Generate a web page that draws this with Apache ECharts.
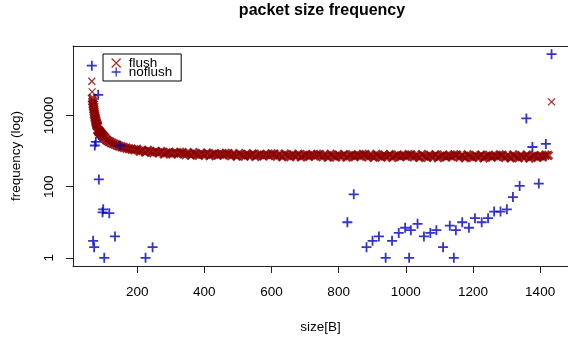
<!DOCTYPE html>
<html><head><meta charset="utf-8">
<script src="https://cdn.jsdelivr.net/npm/echarts@6/dist/echarts.min.js"></script>
<style>html,body{margin:0;padding:0;background:#fff}#c{width:568px;height:339px}</style>
</head><body><div id="c"></div>
<script>
const xTicks = [200, 400, 600, 800, 1000, 1200, 1400];
const yTicks = [1, 100, 10000];

const flushSize = [65,66,67,68,69,70,71,72,73,74,75,76,77,78,79,80,81,82,83,84,85,86,87,88,89,90,92,94,96,98,100,103,107,111,116,121,127,133,140,146,153,160,168,176,184,192,
200,208,216,224,232,240,248,256,264,272,280,288,296,304,312,320,328,336,344,352,360,368,376,384,392,400,408,416,424,432,440,448,456,464,472,480,488,496,504,512,520,528,536,544,552,560,568,576,584,592,600,608,616,624,632,640,648,656,664,672,680,688,696,704,712,720,728,736,744,752,760,768,776,784,792,800,808,816,824,832,840,848,856,864,872,880,888,896,904,912,920,928,936,944,952,960,968,976,984,992,1000,1008,1016,1024,1032,1040,1048,1056,1064,1072,1080,1088,1096,1104,1112,1120,1128,1136,1144,1152,1160,1168,1176,1184,1192,1200,1208,1216,1224,1232,1240,1248,1256,1264,1272,1280,1288,1296,1304,1312,1320,1328,1336,1344,1352,1360,1368,1376,1384,1392,1400,1408,1416,1424,1434];
const flushFreq = [91000,46000,30000,24500,20500,17500,14800,12700,11000,9800,8700,7800,7000,6400,5900,5500,5200,4900,3900,3800,3700,3600,3520,3440,3370,3300,3120,2920,2780,2650,2540,2390,2120,1990,1860,1750,1640,1550,1460,1390,1320,1260,1205,1160,1120,1085,
1115,990,1036,934,1054,957,892,972,895,973,827,895,927,833,888,842,919,901,793,854,766,900,816,762,852,786,873,736,810,848,760,821,779,860,845,740,804,718,854,772,720,812,748,836,701,776,816,728,790,749,831,817,713,778,692,829,748,697,790,726,815,680,756,796,710,772,732,814,801,697,762,677,815,734,683,777,713,803,668,744,785,699,761,722,804,791,687,753,668,806,725,675,768,704,794,659,736,776,690,752,713,795,782,678,744,659,797,716,666,759,696,785,651,727,768,681,744,704,787,773,670,735,651,788,708,657,751,687,777,642,719,759,673,735,696,778,765,661,727,642,780,699,649,742,679,768,634,710,751,665,727,688,770,757,24100];

const noflushSize = [65,84,77,74,148,86,99,97,117,69,72,134,102,225,246,826,845,883,901,920,940,959,979,998,1015,1035,1010,1054,1073,1091,1111,1131,1149,1143,1168,1188,1206,1226,1245,1263,1282,1301,1319,1339,1396,1434,1359,1377,1417];
const noflushFreq = [250000,38000,1800,1430,1430,160,23,19,18,3,2,4,1,1,2,10,61,2,3,4,1,3,5,7,6,9,1,4,5,6,2,8,6,1,10,7,13,10,13,20,20,23,51,105,122,527000,8250,1300,1590];

const FONT = '"Liberation Sans", Arial, Helvetica, sans-serif';
const xMark = 'path://M0,0L10,10M10,0L0,10';
const plusMark = 'path://M5,0L5,10M0,5L10,5';
const RED = '#8B0000';
const BLUE = '#0000C0';
const AX = '#222';
const plainNum = v => String(Math.round(v));

const flushData = flushSize.map((s, i) => {
  const isolated = i < 2 || i === flushSize.length - 1;
  return isolated
    ? {value: [s, flushFreq[i]], symbolSize: 7, itemStyle: {borderWidth: 1.3}}
    : {value: [s, flushFreq[i]]};
});

const chart = echarts.init(document.getElementById('c'), null, {renderer: 'canvas'});
const option = {
  animation: false,
  backgroundColor: '#fff',
  title: {
    text: 'packet size frequency', left: 322, top: 3, textAlign: 'center', padding: 0,
    textStyle: {fontFamily: FONT, fontSize: 16, fontWeight: 'bold', color: '#000'}
  },
  grid: {left: 73, top: 46, bottom: 72, right: 0, show: false},
  legend: {
    orient: 'vertical', left: 103, top: 54, padding: [2, 9, 2, 8],
    borderColor: '#000', borderWidth: 1, itemWidth: 15, itemHeight: 9, itemGap: -5,
    textStyle: {fontFamily: FONT, fontSize: 13.5, color: '#000'},
    itemStyle: {borderWidth: 1.3},
    selectedMode: false,
    data: [{name: 'flush', icon: xMark}, {name: 'noflush', icon: plusMark}]
  },
  xAxis: [{
    type: 'value', min: 9, max: 1483,
    name: 'size[B]', nameLocation: 'middle', nameGap: 54,
    nameTextStyle: {fontFamily: FONT, fontSize: 13.5, color: '#000'},
    axisLine: {show: true, onZero: false, lineStyle: {color: AX, width: 1}},
    axisTick: {show: true, length: 7, customValues: xTicks, lineStyle: {color: AX, width: 1}},
    axisLabel: {customValues: xTicks, margin: 19.5, fontFamily: FONT, fontSize: 13.5, color: '#000', formatter: plainNum},
    splitLine: {show: false}
  }, {
    type: 'value', position: 'top', min: 9, max: 1483,
    axisLine: {show: true, onZero: false, lineStyle: {color: AX, width: 1}},
    axisTick: {show: false}, axisLabel: {show: false}, splitLine: {show: false}
  }],
  yAxis: {
    type: 'log', logBase: 10, min: 0.59, max: 893000,
    name: 'frequency (log)', nameLocation: 'middle', nameGap: 50,
    nameTextStyle: {fontFamily: FONT, fontSize: 13.5, color: '#000'},
    axisLine: {show: true, onZero: false, lineStyle: {color: AX, width: 1}},
    axisTick: {show: true, length: 7, customValues: yTicks, lineStyle: {color: AX, width: 1}},
    axisLabel: {customValues: yTicks, rotate: 90, margin: 17, fontFamily: FONT, fontSize: 13.5, color: '#000', formatter: plainNum},
    splitLine: {show: false}, minorTick: {show: false}
  },
  series: [
    {
      name: 'flush', type: 'scatter', silent: true, z: 2,
      symbol: xMark, symbolSize: 8,
      itemStyle: {color: RED, borderColor: RED, borderWidth: 3},
      data: flushData
    },
    {
      name: 'noflush', type: 'scatter', silent: true, z: 3,
      symbol: plusMark, symbolSize: 10,
      itemStyle: {color: BLUE, borderColor: BLUE, borderWidth: 1.8},
      data: noflushSize.map((s, i) => [s, noflushFreq[i]])
    }
  ]
};
chart.setOption(option);
</script>
</body></html>
